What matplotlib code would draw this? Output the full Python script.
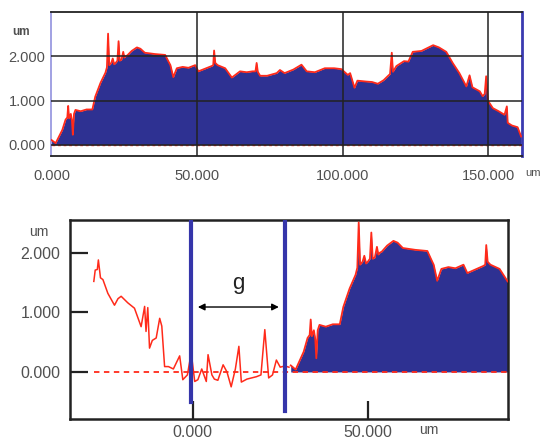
import matplotlib.pyplot as plt
import numpy as np

# surface profile, full scan (um)
prof_x = [0, 1.4, 3.7, 4.8, 5.4, 5.7, 6.0, 6.6, 7.0, 7.3, 7.7, 8.2, 10, 12, 14, 15, 16.8, 18.5,
          19.0, 19.4, 19.8, 20.5, 21.0, 21.5, 22.0, 22.6, 23.0, 23.4, 24.0, 24.6, 25.0, 25.4, 26,
          27.5, 29.3, 30.5, 32, 35.5, 39, 40, 40.8, 41.8, 43, 45, 47, 49.3, 50.4, 52.7, 55, 55.5,
          55.8, 56.2, 57, 59.6, 61.9, 64.7, 67, 69, 70, 70.4, 70.8, 71.6, 74, 77.3, 78.4, 80, 83,
          85.8, 87.6, 90.4, 93.8, 97, 99.5, 100.5, 101.7, 102.5, 104, 105, 108, 110, 112, 114,
          115.4, 116.2, 116.8, 117.2, 118.4, 121, 122.5, 124, 127, 131, 133, 135.5, 137.7, 140,
          142.4, 143.5, 144.5, 147, 148, 148.7, 149.2, 149.8, 151.5, 153.5, 155.5, 156.3, 156.6,
          158, 160, 161.2]
prof_y = [0.11, 0.04, 0.34, 0.57, 0.62, 0.88, 0.6, 0.7, 0.55, 0.23, 0.7, 0.79, 0.76, 0.8, 0.8,
          1.09, 1.4, 1.63, 1.75, 2.51, 1.8, 1.85, 1.95, 1.82, 1.85, 1.9, 2.34, 1.9, 1.92, 2.1,
          1.97, 2.0, 2.02, 2.12, 2.2, 2.17, 2.08, 2.05, 2.03, 1.9, 1.8, 1.53, 1.73, 1.76, 1.74,
          1.8, 1.66, 1.72, 1.78, 1.8, 2.13, 1.85, 1.8, 1.73, 1.52, 1.66, 1.64, 1.66, 1.66, 1.85,
          1.65, 1.56, 1.56, 1.62, 1.69, 1.62, 1.7, 1.81, 1.66, 1.64, 1.73, 1.73, 1.71, 1.65, 1.58,
          1.62, 1.29, 1.45, 1.43, 1.42, 1.38, 1.46, 1.55, 1.6, 2.08, 1.65, 1.78, 1.89, 1.88, 2.1,
          2.12, 2.25, 2.2, 2.1, 1.85, 1.62, 1.32, 1.57, 1.3, 1.21, 1.1, 1.15, 1.55, 1.0, 0.83,
          0.76, 0.68, 0.87, 0.5, 0.44, 0.4, 0.19]

# zoomed scan: substrate side before the film edge
sub_x = [-28.2, -27.8, -27.2, -26.9, -26.3, -25.6, -24.2, -22.3, -21.3, -20.4, -18.5, -16.6,
         -14.7, -13.7, -13.3, -12.8, -12.3, -11.5, -10.4, -9.4, -8.8, -8.0, -6.9, -5.5, -3.7,
         -2.8, -1.5, -0.4, 0.6, 1.5, 2.6, 3.9, 4.4, 5.5, 6.2, 7.2, 8.7, 9.8, 11, 12.2, 13.2,
         13.9, 15.5, 18.2, 19.5, 20.6, 21.7, 22.8, 23.9, 25, 26.3, 27.5]
sub_y = [1.52, 1.71, 1.72, 1.88, 1.58, 1.55, 1.32, 1.12, 1.23, 1.27, 1.16, 1.07, 0.76, 1.1,
         0.68, 1.08, 0.4, 0.53, 0.57, 0.9, 0.77, 0.09, 0.09, 0.05, 0.27, -0.13, -0.05, 0.32,
         -0.16, -0.13, 0.05, -0.16, 0.29, -0.05, -0.12, -0.14, 0.12, 0.0, -0.25, 0.05, 0.43,
         -0.17, -0.12, -0.08, -0.05, 0.71, -0.1, -0.05, 0.2, 0.08, 0.1, 0.08]
film_offset = 28.0
gap_left = -0.5
gap_right = 26.3

top_ticks = [0, 50, 100, 150]
top_labels = ['0.000', '50.000', '100.000', '150.000']
bot_xticks = [0, 50]
bot_xlabels = ['0.000', '50.000']
yticks = [0, 1, 2]
ylabels = ['0.000', '1.000', '2.000']

navy = '#2e3192'
red = '#ff2a1a'
gray = '#505050'
plt.rcParams['font.family'] = ['Liberation Sans', 'DejaVu Sans']

fig = plt.figure(figsize=(5.43, 4.42), dpi=100)

# ---- top panel
ax1 = fig.add_axes([0.0939, 0.647, 0.8674, 0.326])
ax1.fill_between(prof_x, 0, prof_y, color=navy, lw=0, zorder=2)
ax1.plot(prof_x, prof_y, color=red, lw=1.3, zorder=3)
ax1.plot([0, 161.5], [0, 0], color=red, lw=1, ls=(0, (2, 2)), zorder=3)
for v in top_ticks[1:]:
    ax1.axvline(v, color='#222222', lw=1.1, zorder=4)
for v in yticks:
    ax1.axhline(v, color='#222222', lw=1.1, zorder=4)
ax1.set_xlim(-0.2, 161.5)
ax1.set_ylim(-0.25, 3.0)
ax1.set_xticks(top_ticks)
ax1.set_xticklabels(top_labels)
ax1.set_yticks(yticks)
ax1.set_yticklabels(ylabels)
ax1.tick_params(length=0, labelsize=10.5, labelcolor=gray, pad=4)
ax1.tick_params(axis='x', pad=9)
for s in ['top', 'bottom']:
    ax1.spines[s].set_color('#222222')
    ax1.spines[s].set_linewidth(1.3)
ax1.spines['left'].set_color('#9a9ae0')
ax1.spines['left'].set_linewidth(1.3)
ax1.spines['right'].set_color('#3a3ab0')
ax1.spines['right'].set_linewidth(2)
ax1.text(-0.045, 0.86, 'um', transform=ax1.transAxes, ha='right', va='center',
         fontsize=8.5, color=gray, fontweight='bold')
ax1.text(1.006, -0.12, 'um', transform=ax1.transAxes, ha='left', va='center',
         fontsize=8, color=gray)

# ---- bottom panel
ax2 = fig.add_axes([0.1289, 0.052, 0.8066, 0.4502])
fx = np.array(prof_x) + film_offset
fy = np.array(prof_y)
keep = fx <= 90.5
ax2.fill_between(fx[keep], 0, fy[keep], color=navy, lw=0, zorder=2)
ax2.plot(fx[keep], fy[keep], color=red, lw=1.3, zorder=3)
ax2.plot(sub_x, sub_y, color=red, lw=1.1, zorder=3)
ax2.plot([sub_x[0], 90], [0, 0], color=red, lw=1.3, ls=(0, (3, 2.5)), zorder=3)
ax2.plot([gap_left, gap_left], [-0.5, 2.6], color='#3535aa', lw=3, zorder=5)
ax2.plot([gap_right, gap_right], [-0.65, 2.6], color='#3535aa', lw=3, zorder=5)
ax2.annotate('', xy=(gap_left + 1.2, 1.09), xytext=(gap_right - 0.9, 1.09),
             arrowprops=dict(arrowstyle='<|-|>', color='black', lw=1, mutation_scale=10),
             zorder=6)
ax2.text((gap_left + gap_right) / 2, 1.3, 'g', ha='center', va='bottom', fontsize=16,
         color='#222222')
ax2.set_xlim(-35, 90)
ax2.set_ylim(-0.79, 2.55)
ax2.set_xticks(bot_xticks)
ax2.set_xticklabels(bot_xlabels)
ax2.set_yticks(yticks)
ax2.set_yticklabels(ylabels)
ax2.tick_params(direction='in', length=13, width=1.6, color='#222222', labelsize=11.5,
                labelcolor=gray)
ax2.tick_params(axis='y', pad=7)
ax2.tick_params(axis='x', pad=4)
for s in ax2.spines.values():
    s.set_color('#222222')
    s.set_linewidth(1.8)
ax2.text(-0.05, 0.94, 'um', transform=ax2.transAxes, ha='right', va='center',
         fontsize=10, color=gray)
ax2.text(0.82, -0.055, 'um', transform=ax2.transAxes, ha='center', va='center',
         fontsize=10, color=gray)

fig.savefig('out.png', dpi=100)
